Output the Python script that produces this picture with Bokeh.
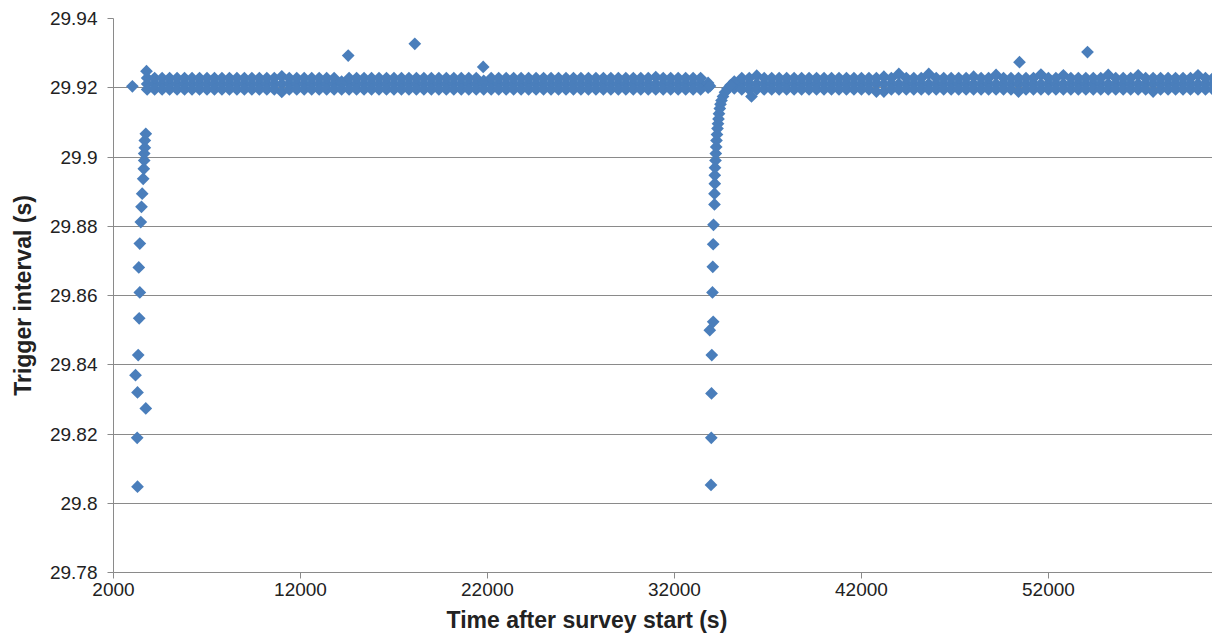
import math
from bokeh.plotting import figure
from bokeh.models import FixedTicker, Range1d, Title
from bokeh.embed import file_html
from bokeh.resources import INLINE

# ---------------- data ----------------
x_ticks = [2000, 12000, 22000, 32000, 42000, 52000]
x_tick_labels = ["2000", "12000", "22000", "32000", "42000", "52000"]
y_ticks = [29.78, 29.80, 29.82, 29.84, 29.86, 29.88, 29.90, 29.92, 29.94]
y_tick_labels = ["29.78", "29.8", "29.82", "29.84", "29.86", "29.88", "29.9", "29.92", "29.94"]

pre_t = [3010]
pre_v = [29.9204]

left_dip_t = [3284, 3267, 3727, 3284, 3177, 3321, 3374, 3407, 3353, 3407,
              3460, 3497, 3535, 3588, 3620, 3642, 3642, 3674, 3674, 3727]
left_dip_v = [29.8048, 29.8189, 29.8274, 29.8320, 29.8370, 29.8428, 29.8534, 29.8609, 29.8681, 29.8750,
              29.8812, 29.8856, 29.8894, 29.8937, 29.8966, 29.8990, 29.9010, 29.9027, 29.9048, 29.9067]

right_dip_t = [33900, 33954, 33970, 33981, 33997, 33890, 34072, 34034, 34050, 34072,
               34088, 34141, 34141, 34157, 34157, 34168, 34195, 34211, 34232, 34248,
               34275, 34302, 34329, 34355, 34382, 34425, 34462, 34516, 34596, 34703,
               34837, 34997]
right_dip_v = [29.9205, 29.8053, 29.8189, 29.8317, 29.8428, 29.8500, 29.8524, 29.8609, 29.8683, 29.8748,
               29.8804, 29.8863, 29.8894, 29.8923, 29.8947, 29.8969, 29.8990, 29.9010, 29.9029, 29.9048,
               29.9065, 29.9082, 29.9096, 29.9110, 29.9125, 29.9140, 29.9152, 29.9163, 29.9175, 29.9187,
               29.9197, 29.9207]

outlier_t = [3765, 14552, 18114, 21772, 36120, 50453, 54090]
outlier_v = [29.9248, 29.9293, 29.9327, 29.9260, 29.9175, 29.9274, 29.9303]

band_t = [
    3800, 4200, 4600, 5000, 5400, 5800, 6200, 6600, 7000, 7400,
    7800, 8200, 8600, 9000, 9400, 9800, 10200, 10600, 11000, 11400,
    11800, 12200, 12600, 13000, 13400, 13800, 14200, 14600, 15000, 15400,
    15800, 16200, 16600, 17000, 17400, 17800, 18200, 18600, 19000, 19400,
    19800, 20200, 20600, 21000, 21400, 21800, 22200, 22600, 23000, 23400,
    23800, 24200, 24600, 25000, 25400, 25800, 26200, 26600, 27000, 27400,
    27800, 28200, 28600, 29000, 29400, 29800, 30200, 30600, 31000, 31400,
    31800, 32200, 32600, 33000, 33400, 33800,
    35200, 35600, 36000, 36400, 36800, 37200, 37600, 38000, 38400, 38800,
    39200, 39600, 40000, 40400, 40800, 41200, 41600, 42000, 42400, 42800,
    43200, 43600, 44000, 44400, 44800, 45200, 45600, 46000, 46400, 46800,
    47200, 47600, 48000, 48400, 48800, 49200, 49600, 50000, 50400, 50800,
    51200, 51600, 52000, 52400, 52800, 53200, 53600, 54000, 54400, 54800,
    55200, 55600, 56000, 56400, 56800, 57200, 57600, 58000, 58400, 58800,
    59200, 59600, 60000, 60400, 60800,
]
band_hi = [
    29.9228, 29.9228, 29.9228, 29.9228, 29.9228, 29.9228, 29.9228, 29.9228, 29.9228, 29.9228,
    29.9228, 29.9228, 29.9228, 29.9228, 29.9228, 29.9228, 29.9228, 29.9228, 29.9233, 29.9228,
    29.9228, 29.9228, 29.9228, 29.9228, 29.9228, 29.9228, 29.9218, 29.9228, 29.9228, 29.9228,
    29.9228, 29.9228, 29.9228, 29.9228, 29.9228, 29.9228, 29.9228, 29.9228, 29.9228, 29.9228,
    29.9228, 29.9228, 29.9228, 29.9228, 29.9228, 29.9220, 29.9228, 29.9228, 29.9228, 29.9228,
    29.9228, 29.9228, 29.9228, 29.9228, 29.9228, 29.9228, 29.9228, 29.9228, 29.9228, 29.9228,
    29.9228, 29.9228, 29.9228, 29.9228, 29.9228, 29.9228, 29.9228, 29.9228, 29.9231, 29.9228,
    29.9228, 29.9228, 29.9228, 29.9228, 29.9228, 29.9214,
    29.9218, 29.9228, 29.9228, 29.9235, 29.9228, 29.9228, 29.9228, 29.9228, 29.9228, 29.9228,
    29.9228, 29.9228, 29.9228, 29.9228, 29.9228, 29.9228, 29.9228, 29.9228, 29.9228, 29.9228,
    29.9232, 29.9228, 29.9240, 29.9228, 29.9228, 29.9228, 29.9240, 29.9228, 29.9228, 29.9228,
    29.9228, 29.9228, 29.9232, 29.9228, 29.9228, 29.9237, 29.9228, 29.9228, 29.9228, 29.9228,
    29.9228, 29.9238, 29.9228, 29.9228, 29.9236, 29.9228, 29.9228, 29.9228, 29.9228, 29.9228,
    29.9237, 29.9228, 29.9228, 29.9228, 29.9236, 29.9228, 29.9228, 29.9228, 29.9228, 29.9228,
    29.9228, 29.9228, 29.9236, 29.9228, 29.9228,
]
band_mid = [
    29.9211, 29.9211, 29.9211, 29.9211, 29.9211, 29.9211, 29.9211, 29.9211, 29.9211, 29.9211,
    29.9211, 29.9211, 29.9211, 29.9211, 29.9211, 29.9211, 29.9211, 29.9211, 29.9211, 29.9211,
    29.9211, 29.9211, 29.9211, 29.9211, 29.9211, 29.9211, 29.9211, 29.9211, 29.9211, 29.9211,
    29.9211, 29.9211, 29.9211, 29.9211, 29.9211, 29.9211, 29.9211, 29.9211, 29.9211, 29.9211,
    29.9211, 29.9211, 29.9211, 29.9211, 29.9211, 29.9211, 29.9211, 29.9211, 29.9211, 29.9211,
    29.9211, 29.9211, 29.9211, 29.9211, 29.9211, 29.9211, 29.9211, 29.9211, 29.9211, 29.9211,
    29.9211, 29.9211, 29.9211, 29.9211, 29.9211, 29.9211, 29.9211, 29.9211, 29.9211, 29.9211,
    29.9211, 29.9211, 29.9211, 29.9211, 29.9211, 29.9208,
    29.9210, 29.9211, 29.9211, 29.9211, 29.9211, 29.9211, 29.9211, 29.9211, 29.9211, 29.9211,
    29.9211, 29.9211, 29.9211, 29.9211, 29.9211, 29.9211, 29.9211, 29.9211, 29.9211, 29.9211,
    29.9211, 29.9211, 29.9211, 29.9211, 29.9211, 29.9211, 29.9211, 29.9211, 29.9211, 29.9211,
    29.9211, 29.9211, 29.9211, 29.9211, 29.9211, 29.9211, 29.9211, 29.9211, 29.9211, 29.9211,
    29.9211, 29.9211, 29.9211, 29.9211, 29.9211, 29.9211, 29.9211, 29.9211, 29.9211, 29.9211,
    29.9211, 29.9211, 29.9211, 29.9211, 29.9211, 29.9211, 29.9211, 29.9211, 29.9211, 29.9211,
    29.9211, 29.9211, 29.9211, 29.9211, 29.9211,
]
band_lo = [
    29.9195, 29.9195, 29.9195, 29.9195, 29.9195, 29.9195, 29.9195, 29.9195, 29.9195, 29.9195,
    29.9195, 29.9195, 29.9195, 29.9195, 29.9195, 29.9195, 29.9195, 29.9195, 29.9188, 29.9195,
    29.9195, 29.9195, 29.9195, 29.9195, 29.9195, 29.9195, 29.9195, 29.9195, 29.9195, 29.9195,
    29.9195, 29.9195, 29.9195, 29.9195, 29.9195, 29.9195, 29.9195, 29.9195, 29.9195, 29.9195,
    29.9195, 29.9195, 29.9195, 29.9195, 29.9195, 29.9195, 29.9195, 29.9195, 29.9195, 29.9195,
    29.9195, 29.9195, 29.9195, 29.9195, 29.9195, 29.9195, 29.9195, 29.9195, 29.9195, 29.9195,
    29.9195, 29.9195, 29.9195, 29.9195, 29.9195, 29.9195, 29.9195, 29.9195, 29.9195, 29.9195,
    29.9195, 29.9195, 29.9195, 29.9195, 29.9195, 29.9200,
    29.9198, 29.9195, 29.9195, 29.9195, 29.9195, 29.9195, 29.9195, 29.9195, 29.9195, 29.9195,
    29.9195, 29.9195, 29.9195, 29.9195, 29.9195, 29.9195, 29.9195, 29.9195, 29.9195, 29.9189,
    29.9189, 29.9195, 29.9195, 29.9195, 29.9195, 29.9195, 29.9195, 29.9195, 29.9195, 29.9195,
    29.9195, 29.9195, 29.9195, 29.9195, 29.9195, 29.9195, 29.9195, 29.9195, 29.9189, 29.9195,
    29.9195, 29.9195, 29.9195, 29.9195, 29.9195, 29.9195, 29.9195, 29.9195, 29.9195, 29.9195,
    29.9195, 29.9195, 29.9195, 29.9195, 29.9195, 29.9195, 29.9189, 29.9195, 29.9195, 29.9195,
    29.9195, 29.9195, 29.9195, 29.9195, 29.9195,
]

# ---------------- styling ----------------
COLOR = "#4A7EBB"
GRID = "#8a8a8a"
FONT = "Liberation Sans"
TXT = "#222222"

p = figure(
    output_backend="svg", toolbar_location=None,
    width=1212, height=639,
    frame_width=1099, frame_height=554,
    min_border_left=113, min_border_right=0, min_border_top=18, min_border_bottom=67,
    x_range=Range1d(2000, 60775), y_range=Range1d(29.78, 29.94),
)
p.outline_line_color = None
p.background_fill_color = "white"
p.border_fill_color = "white"

mk = dict(marker="square", size=9, angle=math.pi / 4, fill_color=COLOR, line_color=None)
p.scatter(band_t, band_mid, **mk)
p.scatter(band_t, band_hi, **mk)
p.scatter(band_t, band_lo, **mk)
p.scatter(pre_t, pre_v, **mk)
p.scatter(left_dip_t, left_dip_v, **mk)
p.scatter(right_dip_t, right_dip_v, **mk)
p.scatter(outlier_t, outlier_v, **mk)

# axes
p.xaxis.ticker = FixedTicker(ticks=x_ticks)
p.xaxis.major_label_overrides = {t: l for t, l in zip(x_ticks, x_tick_labels)}
p.yaxis.ticker = FixedTicker(ticks=y_ticks)
p.yaxis.major_label_overrides = {t: l for t, l in zip(y_ticks, y_tick_labels)}

for ax in (p.xaxis, p.yaxis):
    ax.axis_line_color = GRID
    ax.major_tick_line_color = GRID
    ax.major_tick_out = 6
    ax.major_tick_in = 0
    ax.minor_tick_line_color = None
    ax.major_label_text_font = FONT
    ax.major_label_text_font_size = "19px"
    ax.major_label_text_color = TXT

p.xaxis.major_label_standoff = 4
p.yaxis.major_label_standoff = 10

p.yaxis.axis_label = "Trigger interval (s)"
p.yaxis.axis_label_text_font = FONT
p.yaxis.axis_label_text_font_size = "23px"
p.yaxis.axis_label_text_font_style = "bold"
p.yaxis.axis_label_text_color = TXT
p.yaxis.axis_label_standoff = 11

p.xgrid.visible = False
p.ygrid.ticker = FixedTicker(ticks=y_ticks[1:-1])
p.ygrid.grid_line_color = GRID
p.ygrid.grid_line_width = 1

p.add_layout(Title(
    text="Time after survey start (s)", align="left", offset=333, standoff=13,
    text_font=FONT, text_font_size="23px", text_font_style="bold", text_color=TXT,
), "below")

open("out.html", "w").write(file_html(p, INLINE))
